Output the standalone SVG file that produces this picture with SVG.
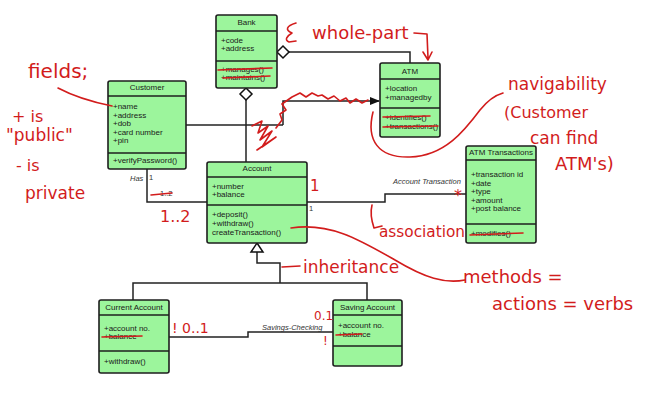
<svg xmlns="http://www.w3.org/2000/svg" width="650" height="400" viewBox="0 0 650 400">
<style>
.box{fill:#9cf59c;stroke:#1e1e1e;stroke-width:1.6}
.sep{stroke:#1e1e1e;stroke-width:1.6}
.t{font-family:"Liberation Sans",Arial,sans-serif;font-size:8px;fill:#1a1a1a}
.ttl{font-family:"Liberation Sans",Arial,sans-serif;font-size:8px;fill:#1a1a1a;text-anchor:middle}
.lbl{font-family:"Liberation Sans",Arial,sans-serif;font-size:7.5px;fill:#333}
.it{font-style:italic}
.con{fill:none;stroke:#222;stroke-width:1.5}
.red{fill:none;stroke:#d21c1c;stroke-width:1.6;stroke-linecap:round;stroke-linejoin:round}
.hw{font-family:"DejaVu Sans","Liberation Sans",sans-serif;fill:#d21c1c;font-weight:normal}
</style>
<defs>
<marker id="arr" markerWidth="10" markerHeight="8" refX="9" refY="4" orient="auto" markerUnits="userSpaceOnUse">
<path d="M0,0 L10,4 L0,8 Z" fill="#111"/>
</marker>
</defs>
<rect width="650" height="400" fill="#fff"/>

<g id="connectors">
<path class="con" d="M289,52 H410 V63"/>
<path d="M277,52 L283,46 L289,52 L283,58 Z" fill="#fff" stroke="#111" stroke-width="1.5"/>
<path class="con" d="M246,100 V162"/>
<path d="M246,88 L252,94 L246,100 L240,94 Z" fill="#fff" stroke="#111" stroke-width="1.5"/>
<path class="con" d="M186,125 H283"/>
<path class="con" d="M283,125 V101 H379" marker-end="url(#arr)"/>
<path class="con" d="M147,169 V202 H207"/>
<path class="con" d="M307,202 H385 V194 H466"/>
<path class="con" d="M257,252 V263 H280 V283"/>
<path class="con" d="M133,300 V283 H367 V300"/>
<path d="M257,243 L263,252 L251,252 Z" fill="#fff" stroke="#111" stroke-width="1.5"/>
<path class="con" d="M169,337 H248 V332 H333"/>
<text class="lbl it" x="130" y="181">Has</text>
<text class="lbl" x="149" y="180">1</text>
<text class="lbl" x="160" y="196" font-size="7">1..2</text>
<text class="lbl" x="309" y="211">1</text>
<text class="lbl it" x="393" y="184">Account Transaction</text>
<text class="lbl it" x="262" y="330">Savings-Checking</text>
</g>

<g id="bank">
<rect class="box" x="216" y="15" width="61" height="73" rx="2"/>
<line class="sep" x1="216" y1="31" x2="277" y2="31"/>
<line class="sep" x1="216" y1="61" x2="277" y2="61"/>
<text class="ttl" x="246.5" y="25">Bank</text>
<text class="t" x="221" y="43">+code</text>
<text class="t" x="221" y="51">+address</text>
<text class="t" x="221" y="72">+manages()</text>
<text class="t" x="221" y="80">+maintains()</text>
</g>

<g id="atm">
<rect class="box" x="380" y="63" width="60" height="74" rx="2"/>
<line class="sep" x1="380" y1="79" x2="440" y2="79"/>
<line class="sep" x1="380" y1="108" x2="440" y2="108"/>
<text class="ttl" x="410" y="74">ATM</text>
<text class="t" x="385" y="91">+location</text>
<text class="t" x="385" y="100">+managedby</text>
<text class="t" x="385" y="120">+identifies()</text>
<text class="t" x="385" y="129">+transactions()</text>
</g>

<g id="customer">
<rect class="box" x="108" y="81" width="78" height="88" rx="2"/>
<line class="sep" x1="108" y1="96" x2="186" y2="96"/>
<line class="sep" x1="108" y1="153" x2="186" y2="153"/>
<text class="ttl" x="147" y="90">Customer</text>
<text class="t" x="113" y="109">+name</text>
<text class="t" x="113" y="118">+address</text>
<text class="t" x="113" y="126">+dob</text>
<text class="t" x="113" y="135">+card number</text>
<text class="t" x="113" y="143">+pin</text>
<text class="t" x="113" y="163">+verifyPassword()</text>
</g>

<g id="account">
<rect class="box" x="207" y="162" width="100" height="81" rx="2"/>
<line class="sep" x1="207" y1="177" x2="307" y2="177"/>
<line class="sep" x1="207" y1="205" x2="307" y2="205"/>
<text class="ttl" x="257" y="171">Account</text>
<text class="t" x="212" y="189">+number</text>
<text class="t" x="212" y="197">+balance</text>
<text class="t" x="212" y="217">+deposit()</text>
<text class="t" x="212" y="226">+withdraw()</text>
<text class="t" x="212" y="235">createTransaction()</text>
</g>

<g id="atm-transactions">
<rect class="box" x="466" y="146" width="70" height="97" rx="2"/>
<line class="sep" x1="466" y1="160" x2="536" y2="160"/>
<line class="sep" x1="466" y1="224" x2="536" y2="224"/>
<text class="ttl" x="501" y="155">ATM Transactions</text>
<text class="t" x="471" y="177">+transaction id</text>
<text class="t" x="471" y="186">+date</text>
<text class="t" x="471" y="194">+type</text>
<text class="t" x="471" y="203">+amount</text>
<text class="t" x="471" y="211">+post balance</text>
<text class="t" x="471" y="236">+modifies()</text>
</g>

<g id="current-account">
<rect class="box" x="99" y="300" width="70" height="73" rx="2"/>
<line class="sep" x1="99" y1="315" x2="169" y2="315"/>
<line class="sep" x1="99" y1="351" x2="169" y2="351"/>
<text class="ttl" x="134" y="310">Current Account</text>
<text class="t" x="104" y="331">+account no.</text>
<text class="t" x="104" y="339">+balance</text>
<text class="t" x="104" y="364">+withdraw()</text>
</g>

<g id="saving-account">
<rect class="box" x="333" y="300" width="69" height="66" rx="2"/>
<line class="sep" x1="333" y1="315" x2="402" y2="315"/>
<line class="sep" x1="333" y1="346" x2="402" y2="346"/>
<text class="ttl" x="367.5" y="310">Saving Account</text>
<text class="t" x="338" y="328">+account no.</text>
<text class="t" x="338" y="337">+balance</text>
</g>

<g id="annotations">
<path class="red" d="M218,70 L272,68 M223,78 L270,76"/>
<path class="red" d="M383,117 L430,116 M383,127 L438,126"/>
<path class="red" d="M102,337 L142,336 M336,335 L362,334"/>
<path class="red" d="M470,235 L523,233"/>
<path class="red" d="M151,195 L172,193"/>
<path class="red" d="M58,88 C75,97 92,102 112,106"/>
<path class="red" d="M296,23 C286,26 285,30 292,33 C287,36 284,40 289,42 L296,41"/>
<path class="red" d="M414,33 L427,34 L428,58 M423,52 L428,60 L432,52"/>
<path class="red" d="M252,126 L262,121 L258,133 L268,126 L260,140 L272,131 L262,147 L276,137 L257,150 M276,128 L282,120 L280,114 L286,110 L282,104 L292,97 L300,93 L306,97 L312,93 L318,96 L322,95 L328,99 L334,96 L340,101 L346,98 L350,103 L356,99 L362,103 L368,100"/>
<path class="red" d="M373,112 C366,140 378,158 410,157 C445,156 465,130 480,110 C488,100 496,95 503,93"/>
<path class="red" d="M372,205 C370,213 372,222 374,228 L382,226"/>
<path class="red" d="M291,228 C330,222 360,240 395,260 C425,278 445,284 465,280"/>
<path class="red" d="M282,267 L300,266"/>
<text class="hw" x="28" y="78" font-size="20">fields;</text>
<text class="hw" x="12" y="122" font-size="16">+ is</text>
<text class="hw" x="6" y="141" font-size="17">"public"</text>
<text class="hw" x="16" y="171" font-size="16">- is</text>
<text class="hw" x="25" y="199" font-size="17">private</text>
<text class="hw" x="160" y="222" font-size="16">1..2</text>
<text class="hw" x="312" y="39" font-size="18">whole-part</text>
<text class="hw" x="508" y="90" font-size="17">navigability</text>
<text class="hw" x="504" y="118" font-size="16">(Customer</text>
<text class="hw" x="530" y="144" font-size="17">can find</text>
<text class="hw" x="555" y="170" font-size="18">ATM's)</text>
<text class="hw" x="454" y="201" font-size="16">*</text>
<text class="hw" x="310" y="191" font-size="15">1</text>
<text class="hw" x="379" y="237" font-size="16" textLength="86" lengthAdjust="spacingAndGlyphs">association</text>
<text class="hw" x="303" y="273" font-size="17">inheritance</text>
<text class="hw" x="463" y="283" font-size="18">methods =</text>
<text class="hw" x="492" y="310" font-size="18">actions = verbs</text>
<text class="hw" x="172" y="333" font-size="14">! 0..1</text>
<text class="hw" x="314" y="320" font-size="12">0.1</text>
<text class="hw" x="323" y="345" font-size="12">!</text>
</g>
</svg>
